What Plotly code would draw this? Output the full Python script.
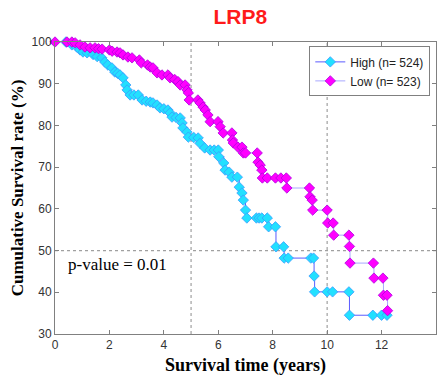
import plotly.graph_objects as go

# High expression group (time in years, survival %)
high_time = [0.4, 0.62, 0.8, 0.92, 1.03, 1.18, 1.4, 1.55, 1.72, 1.83, 1.94, 2.09, 2.2, 2.3, 2.39,
             2.5, 2.6, 2.65, 2.76, 2.9, 3.06, 3.2, 3.35, 3.5, 3.6, 3.75, 3.86, 4.0, 4.15, 4.23, 4.3,
             4.45, 4.6, 4.67, 4.7, 4.85, 4.9, 5.1, 5.26, 5.33, 5.5, 5.7, 5.85, 6.0, 6.02, 6.2, 6.25,
             6.4, 6.5, 6.7, 6.77, 6.87, 6.92, 7.0, 7.05, 7.4, 7.5, 7.6, 7.8, 7.85, 8.1, 8.12, 8.4,
             8.42, 8.57, 9.4, 9.5, 9.52, 9.54, 10.0, 10.2, 10.8, 10.82, 11.68, 12.0, 12.2]
high_surv = [100, 99.3, 98.8, 98.1, 97.6, 97.4, 97.0, 96.5, 96.2, 95.2, 94.5, 93.8, 92.8, 92.5, 92.1,
             91.4, 89.7, 88.5, 87.3, 87.3, 87.3, 86.1, 85.8, 85.6, 85.4, 84.9, 84.2, 84.0, 83.7, 83.0, 82.0,
             81.9, 81.8, 80.6, 79.4, 78.4, 77.2, 77.1, 77.0, 75.7, 74.6, 74.1, 74.1, 74.1, 72.5, 71.0, 69.3,
             68.8, 67.6, 67.6, 65.2, 63.8, 62.1, 59.7, 57.8, 57.8, 57.8, 57.8, 57.8, 55.7, 55.7, 50.9, 50.9,
             48.2, 48.2, 48.2, 48.2, 43.9, 40.1, 40.1, 40.1, 40.1, 34.5, 34.5, 34.5, 34.5]

# Low expression group
low_time = [0, 0.44, 0.62, 0.74, 0.92, 1.1, 1.29, 1.47, 1.6, 1.73, 2.0, 2.1, 2.28, 2.39, 2.5, 2.68,
            2.83, 3.1, 3.17, 3.4, 3.5, 3.6, 3.75, 3.93, 4.15, 4.23, 4.4, 4.52, 4.6, 4.78, 4.85, 4.9,
            4.93, 5.25, 5.33, 5.44, 5.52, 5.62, 5.7, 5.99, 6.07, 6.18, 6.5, 6.52, 6.55, 6.72, 6.87,
            6.92, 7.0, 7.43, 7.46, 7.54, 7.6, 7.62, 7.8, 8.1, 8.3, 8.5, 8.52, 9.35, 9.37, 9.45, 9.47,
            10.0, 10.02, 10.22, 10.24, 10.8, 10.82, 10.84, 11.7, 11.72, 12.05, 12.07, 12.2, 12.22]
low_surv = [100, 100, 100, 99.8, 99.3, 98.8, 98.6, 98.6, 98.4, 98.3, 98.1, 97.8, 97.6, 97.4, 96.9, 96.4,
            96.2, 95.7, 95.0, 94.5, 94.0, 93.8, 92.6, 92.1, 92.1, 91.4, 91.0, 90.5, 89.7, 89.7, 88.5, 87.8,
            86.1, 86.1, 85.4, 84.4, 83.7, 82.5, 80.9, 80.9, 79.7, 78.2, 78.2, 76.5, 75.8, 74.8, 74.8,
            73.4, 73.4, 73.4, 71.2, 70.5, 69.3, 67.4, 67.4, 67.4, 67.4, 67.4, 65.0, 65.0, 62.9, 62.1, 59.7,
            59.7, 56.6, 56.6, 53.7, 53.7, 51.0, 47.0, 47.0, 43.4, 43.4, 39.3, 39.3, 35.6]

group_names = ["High (n= 524)", "Low (n= 523)"]
title_text = "LRP8"
p_text = "p-value = 0.01"

fig = go.Figure()
fig.add_trace(go.Scatter(
    x=high_time, y=high_surv, name=group_names[0], mode="lines+markers",
    line=dict(color="#5a5aff", width=1, shape="hv"),
    marker=dict(symbol="diamond", size=8, color="#22e0ff", line=dict(color="#3a9cff", width=0.8)),
    cliponaxis=False))
fig.add_trace(go.Scatter(
    x=low_time, y=low_surv, name=group_names[1], mode="lines+markers",
    line=dict(color="#a8a8ff", width=1, shape="hv"),
    marker=dict(symbol="diamond", size=8, color="#ff00ff", line=dict(color="#b000e0", width=0.8)),
    cliponaxis=False))

for xv in [5, 10]:
    fig.add_shape(type="line", x0=xv, x1=xv, y0=30, y1=100, xref="x", yref="y",
                  line=dict(color="#a0a0a0", width=1.2, dash="dot"), layer="below")
fig.add_shape(type="line", x0=0, x1=14, y0=50, y1=50, xref="x", yref="y",
              line=dict(color="#a0a0a0", width=1.2, dash="dot"), layer="below")

fig.add_annotation(x=0.03, y=50, xref="paper", yref="y", text=p_text, showarrow=False,
                   xanchor="left", yanchor="top", yshift=-2,
                   font=dict(family="Liberation Serif", size=17, color="black"))

fig.update_layout(
    width=441, height=378,
    margin=dict(l=55, r=5, t=42, b=44),
    paper_bgcolor="white", plot_bgcolor="white",
    title=dict(text="<b>" + title_text + "</b>", x=0.545, xanchor="center", y=0.955, yanchor="middle",
               font=dict(family="Liberation Sans", size=21, color="#ff1a1a")),
    showlegend=True,
    legend=dict(x=0.985, y=0.985, xanchor="right", yanchor="top",
                bgcolor="white", bordercolor="#808080", borderwidth=1,
                font=dict(family="Liberation Sans", size=12, color="#222"),
                tracegroupgap=0, itemwidth=30),
    xaxis=dict(range=[0, 14], tickvals=[0, 2, 4, 6, 8, 10, 12, 14], showgrid=False, zeroline=False,
               showline=True, linecolor="#808080", linewidth=1, mirror="ticks",
               ticks="inside", ticklen=4, tickcolor="#808080",
               tickfont=dict(family="Liberation Sans", size=12, color="#333"),
               title=dict(text="<b>Survival time (years)</b>", standoff=6,
                          font=dict(family="Liberation Serif", size=18, color="black"))),
    yaxis=dict(range=[30, 100], tickvals=[30, 40, 50, 60, 70, 80, 90, 100], showgrid=False, zeroline=False,
               showline=True, linecolor="#808080", linewidth=1, mirror="ticks",
               ticks="inside", ticklen=4, tickcolor="#808080",
               tickfont=dict(family="Liberation Sans", size=12, color="#333"),
               title=dict(text="<b>Cumulative Survival rate (%)</b>", standoff=3,
                          font=dict(family="Liberation Serif", size=17, color="black"))),
)

fig.write_html("out.html")
